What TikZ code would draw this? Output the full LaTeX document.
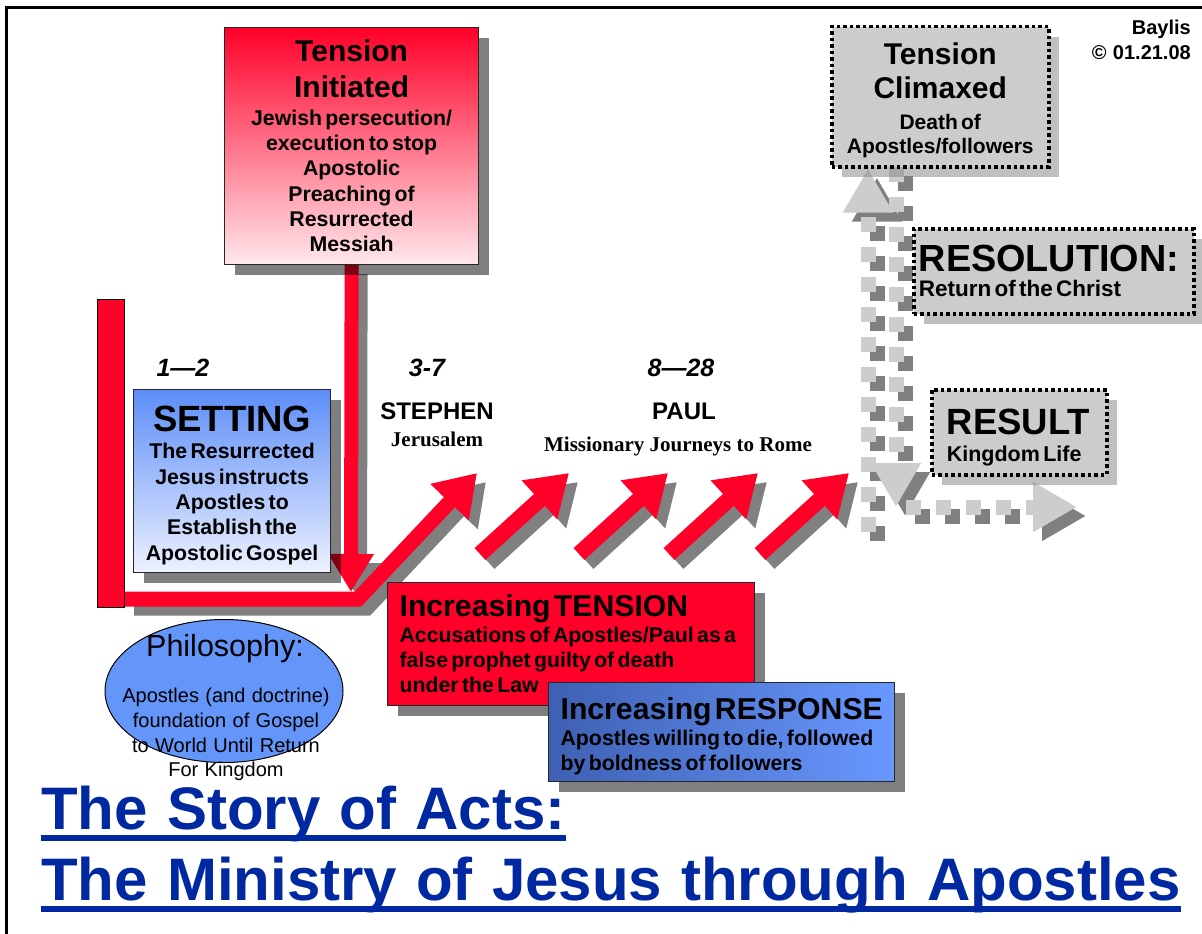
\documentclass[tikz,border=0pt]{standalone}
\usepackage{fontspec}
\setmainfont{Liberation Sans}[WordSpace=1.15]
\newfontfamily\timesfont{Liberation Serif}
\usetikzlibrary{arrows.meta,shapes.geometric,shadows,positioning}
\pgfdeclarelayer{back}
\pgfsetlayers{back,main}
\definecolor{actred}{RGB}{255,0,40}
\definecolor{pinklight}{RGB}{255,232,236}
\definecolor{setblue}{RGB}{92,141,247}
\definecolor{setpale}{RGB}{238,242,255}
\definecolor{philoblue}{RGB}{100,150,250}
\definecolor{respdark}{RGB}{62,96,178}
\definecolor{resplight}{RGB}{104,152,255}
\definecolor{boxgray}{RGB}{204,204,204}
\definecolor{shadegray}{RGB}{128,128,128}
\definecolor{lightdot}{RGB}{205,205,205}
\definecolor{titleblue}{RGB}{0,40,160}
\newcommand\fsz[2]{\fontsize{#1}{#2}\selectfont}
\tikzset{
  dropped/.style={drop shadow={shadow xshift=10pt,shadow yshift=-10pt,fill=black,opacity=0.5}},
  colorbox/.style={draw=black!85,line width=1.2pt,anchor=north west,inner ysep=0pt,font=\bfseries,dropped},
  dotbox/.style={draw=black,line width=3.5pt,dash pattern=on 3.5pt off 3pt,fill=boxgray,anchor=north west,
    inner ysep=0pt,font=\bfseries,drop shadow={shadow xshift=10pt,shadow yshift=-10pt,fill=shadegray}},
  redshaft/.style={draw=actred,line width=16pt},
  shaftshade/.style={draw=shadegray,line width=16pt},
  redtip/.style={-{Triangle[width=50pt,length=40pt]}},
  lightdots/.style={draw=lightdot,line width=15pt,dash pattern=on 15pt off 15pt,-{Triangle[width=47pt,length=44pt]}},
  darkdots/.style={lightdots,draw=shadegray},
  marker/.style={inner sep=0pt,font=\fsz{25}{25}\bfseries\itshape},
  heading/.style={inner sep=0pt,font=\fsz{24}{24}\bfseries},
  place/.style={inner sep=0pt,font=\fsz{21}{22}\timesfont\bfseries},
  titletext/.style={inner sep=0pt,anchor=base west,text=titleblue,font=\fsz{60}{60}\bfseries},
}
\begin{document}
\begin{tikzpicture}[x=1pt,y=-1pt]
\useasboundingbox (0,0) rectangle (1202,934);
\draw[line width=3pt] (6,934) -- (6,8) -- (1202,8);

% boxes
\node[draw=black,line width=1pt,fill=actred,minimum width=27,minimum height=308,inner sep=0pt,anchor=north west] (bar) at (97,299) {};
\node[colorbox,top color=actred,bottom color=pinklight,minimum width=254,minimum height=237,text width=244,align=center] (init) at (224,27)
  {{\fsz{30}{36}Tension\\Initiated\par}\vspace{2pt}\fsz{21.3}{25.3}Jewish persecution/\\execution to stop\\Apostolic\\Preaching of\\Resurrected\\Messiah\par};
\node[colorbox,top color=setblue,bottom color=setpale,minimum width=197,minimum height=183,text width=187,align=center] (setting) at (133,389)
  {{\fsz{36.5}{36}\rule{0pt}{34pt}SETTING\par}\vspace{2pt}\fsz{21.3}{25.3}The Resurrected\\Jesus instructs\\Apostles to\\Establish the\\Apostolic Gospel\par};
\node[ellipse,draw=black,line width=1pt,fill=philoblue,minimum width=238,minimum height=143,inner sep=0pt] (philo) at (224,691) {};
\node[anchor=base,inner sep=0pt,font=\fsz{30.5}{30}] (philohead) at (225,656) {Philosophy:};
\node[anchor=north,align=center,inner sep=0pt,font=\fsz{20}{24.7}] (philobody) at (226,688)
  {Apostles (and doctrine)\\foundation of Gospel\\to World Until Return\\For Kingdom};
\node[colorbox,fill=actred,minimum width=367,minimum height=123,inner xsep=12pt,text width=343,align=left] (tension) at (387,582)
  {{\fsz{30.2}{30}\mbox{Increasing TENSION}\par}\vspace{1pt}\fsz{21.3}{25}\mbox{Accusations of Apostles/Paul as a}\\false prophet guilty of death\\under the Law\par};
\node[colorbox,left color=respdark,right color=resplight,minimum width=346,minimum height=99,inner xsep=12pt,text width=322,align=left] (response) at (548,682)
  {{\fsz{30.2}{30}\rule{0pt}{29.6pt}\mbox{Increasing RESPONSE}\par}\vspace{1pt}\fsz{21.3}{25}\mbox{Apostles willing to die, followed}\\by boldness of followers\par};
\node[dotbox,minimum width=217,minimum height=140,inner xsep=5pt,text width=207,align=center] (climax) at (830,25)
  {{\fsz{30}{34}\rule{0pt}{29.5pt}Tension\\Climaxed\par}\vspace{6pt}\fsz{21}{24.5}Death of\\Apostles/followers\par};
\node[dotbox,minimum width=280,minimum height=85,inner xsep=5pt,text width=270,align=left] (resolution) at (912,227)
  {{\fsz{37.8}{37}RESOLUTION:\par}\fsz{22.5}{25}Return of the Christ\par};
\node[dotbox,minimum width=175,minimum height=85,inner xsep=15pt,text width=145,align=left] (result) at (930,388)
  {{\fsz{36.5}{35}\rule{0pt}{36pt}\mbox{RESULT}\par}\vspace{2pt}\fsz{21.5}{25}Kingdom Life\par};

% chapters and people
\node[marker] (ch12) at (183,368) {1—2};
\node[marker] (ch37) at (427,368) {3-7};
\node[marker] (ch828) at (681,368) {8—28};
\node[heading] (stephen) at (437,411) {STEPHEN};
\node[place] (jerus) at (437,439) {Jerusalem};
\node[heading] (paul) at (684,411) {PAUL};
\node[place] (journeys) at (678,446) {Missionary Journeys to Rome};
\node[anchor=north east,align=right,inner sep=0pt,font=\fsz{20}{25}\bfseries] (stamp) at (1191,20) {Baylis\\© 01.21.08};

% title
\node[titletext] (title1) at (41,829) {The Story of Acts:};
\node[titletext] (title2) at (41,900) {The Ministry of Jesus through Apostles};
\foreach \t in {title1,title2}
  \draw[titleblue,line width=5.5pt] ([yshift=-9pt]\t.base west) -- ([yshift=-9pt]\t.base east);

% arrows
\coordinate (drop) at (351,592);
\coordinate (bend) at (358,599);
\coordinate (barfoot) at (bar.east |- bend);
\coordinate (hop1) at (477,473);
\foreach \i/\sx in {2/480,3/579,4/669,5/760}{
  \coordinate (walk\i) at (\sx,554);
  \coordinate (hop\i) at (\sx+89,473);
}
\coordinate (upfoot) at (868,532);
\coordinate (uptip) at (upfoot |- climax.south);
\coordinate (downtop) at (896,167);
\coordinate (downtip) at (896,507);
\coordinate (rightfoot) at (906,507);
\coordinate (righttip) at (1077,507);
\begin{pgfonlayer}{back}
\foreach \look/\off in {shaftshade/9,redshaft/0}{
  \begin{scope}[transform canvas={shift={(\off,\off)}}]
    \draw[\look,line width=14pt,-{Triangle[width=43pt,length=38pt]}] (init.south) -- (drop);
    \draw[\look,line width=15pt,line join=miter,redtip] (barfoot) -- (bend) -- (hop1);
    \foreach \i in {2,...,5}{\draw[\look,redtip] (walk\i) -- (hop\i);}
  \end{scope}
}
\foreach \look/\off in {darkdots/9,lightdots/0}{
  \begin{scope}[transform canvas={shift={(\off,\off)}}]
    \draw[\look] (upfoot) -- (uptip);
    \draw[\look] (downtop) -- (downtip);
    \draw[\look] (rightfoot) -- (righttip);
  \end{scope}
}
\end{pgfonlayer}
\end{tikzpicture}
\end{document}
